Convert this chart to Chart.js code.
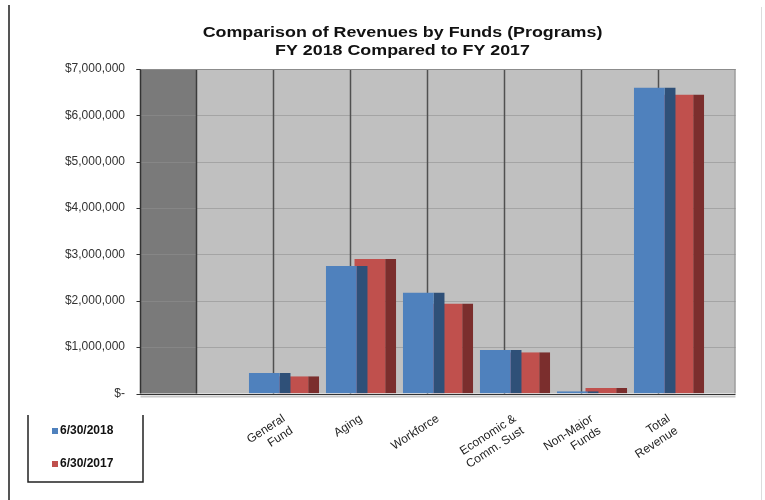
<!DOCTYPE html>
<html>
<head>
<meta charset="utf-8">
<script src="https://cdn.jsdelivr.net/npm/chart.js@4.4.0/dist/chart.umd.min.js"></script>
<style>
  html, body { margin: 0; padding: 0; background: #fff; }
  #wrap { position: relative; width: 765px; height: 500px; }
</style>
</head>
<body>
<div id="wrap"><canvas id="revChart"></canvas></div>
<script>
// first slot is empty, as in the source sheet
const categories = ['', ['General', 'Fund'], 'Aging', 'Workforce', ['Economic &', 'Comm. Sust'], ['Non-Major', 'Funds'], ['Total', 'Revenue']];
const fy2018 = [null, 440000, 2750000, 2180000, 940000, 50000, 6600000];
const fy2017 = [null, 370000, 2900000, 1940000, 890000, 120000, 6450000];
const seriesNames = ['6/30/2018', '6/30/2017'];
const yTicks = [0, 1000000, 2000000, 3000000, 4000000, 5000000, 6000000, 7000000];
const titleLines = ['Comparison of Revenues by Funds (Programs)', 'FY 2018 Compared to FY 2017'];

const faceColors = ['#4f81bd', '#c0504d'];
const sideColors = ['#2f5078', '#7b2e2d'];
const DEPTH = 28; // half depth of the fake 3d box
const FONT = '"Liberation Sans", Arial, sans-serif';

const money = v => v === 0 ? '$-' : '$' + v.toLocaleString('en-US');

const boxPlugin = {
  id: 'box3d',
  beforeDraw(chart) {
    const { ctx, chartArea: ca, scales: { x, y } } = chart;
    const frontL = ca.left - DEPTH, backL = ca.left + DEPTH, backR = ca.right + DEPTH;
    ctx.save();
    // frame
    ctx.fillStyle = '#555';
    ctx.fillRect(8, 5, 2, 495);
    ctx.fillStyle = '#dcdcdc';
    ctx.fillRect(761, 7, 1, 493);

    // title, stretched a bit like the original export
    ctx.fillStyle = '#111';
    ctx.font = 'bold 15px ' + FONT;
    ctx.textAlign = 'center';
    ctx.textBaseline = 'alphabetic';
    titleLines.forEach((t, i) => {
      ctx.save();
      ctx.translate(chart.width / 2 + 20, 37 + i * 17.5);
      ctx.scale(1.19, 1);
      ctx.fillText(t, 0, 0);
      ctx.restore();
    });

    // side wall + back wall
    ctx.fillStyle = '#7a7a7a';
    ctx.fillRect(frontL, ca.top, backL - frontL, ca.bottom - ca.top);
    ctx.fillStyle = '#c0c0c0';
    ctx.fillRect(backL, ca.top, backR - backL, ca.bottom - ca.top);

    // horizontal grid
    yTicks.forEach(t => {
      if (t === 0) return;
      const py = Math.round(y.getPixelForValue(t)) + 0.5;
      ctx.strokeStyle = '#868686';
      ctx.lineWidth = 1;
      ctx.beginPath(); ctx.moveTo(frontL, py); ctx.lineTo(backL, py); ctx.stroke();
      ctx.strokeStyle = '#a4a4a4';
      ctx.beginPath(); ctx.moveTo(backL, py); ctx.lineTo(backR, py); ctx.stroke();
      // tick mark
      ctx.strokeStyle = '#333';
      ctx.beginPath(); ctx.moveTo(frontL - 4, py); ctx.lineTo(frontL, py); ctx.stroke();
    });

    // vertical grid on back wall
    ctx.strokeStyle = '#505050';
    ctx.lineWidth = 1.5;
    for (let i = 1; i < categories.length; i++) {
      const px = (x.getPixelForValue(i - 1) + x.getPixelForValue(i)) / 2 + DEPTH;
      ctx.beginPath(); ctx.moveTo(px, ca.top); ctx.lineTo(px, ca.bottom); ctx.stroke();
    }

    // edges
    ctx.lineWidth = 1.5;
    ctx.strokeStyle = '#333';
    ctx.beginPath(); ctx.moveTo(frontL, ca.top); ctx.lineTo(frontL, ca.bottom); ctx.stroke();
    ctx.strokeStyle = '#3c3c3c';
    ctx.beginPath(); ctx.moveTo(backL, ca.top); ctx.lineTo(backL, ca.bottom); ctx.stroke();
    ctx.lineWidth = 1;
    ctx.strokeStyle = '#8c8c8c';
    ctx.beginPath(); ctx.moveTo(frontL, ca.top + 0.5); ctx.lineTo(backR, ca.top + 0.5); ctx.stroke();
    ctx.beginPath(); ctx.moveTo(backR - 0.5, ca.top); ctx.lineTo(backR - 0.5, ca.bottom); ctx.stroke();
    ctx.strokeStyle = '#333';
    ctx.beginPath(); ctx.moveTo(frontL - 4, ca.top + 0.5); ctx.lineTo(frontL, ca.top + 0.5); ctx.stroke();
    // floor
    const by = Math.round(ca.bottom) + 0.5;
    ctx.strokeStyle = '#333';
    ctx.beginPath(); ctx.moveTo(frontL - 4, by); ctx.lineTo(backR, by); ctx.stroke();
    ctx.strokeStyle = '#c8c8c8';
    ctx.lineWidth = 2;
    ctx.beginPath(); ctx.moveTo(frontL, by + 2); ctx.lineTo(backR, by + 2); ctx.stroke();
    ctx.restore();
  },
  afterDraw(chart) {
    const { ctx } = chart;
    ctx.save();
    // legend box (open at the top)
    ctx.strokeStyle = '#222';
    ctx.lineWidth = 1.5;
    ctx.beginPath();
    ctx.moveTo(28, 415); ctx.lineTo(28, 482); ctx.lineTo(143, 482); ctx.lineTo(143, 415);
    ctx.stroke();
    ctx.font = 'bold 12px ' + FONT;
    ctx.textBaseline = 'middle';
    chart.data.datasets.forEach((ds, i) => {
      const cy = 431 + i * 33;
      ctx.fillStyle = ds.backgroundColor;
      ctx.fillRect(52, cy - 3, 6, 6);
      ctx.fillStyle = '#111';
      ctx.fillText(ds.label, 60, cy);
    });
    ctx.restore();
  }
};

new Chart(document.getElementById('revChart'), {
  type: 'bar',
  data: {
    labels: categories,
    datasets: [fy2018, fy2017].map((d, i) => ({
      label: seriesNames[i],
      data: d,
      backgroundColor: faceColors[i],
      borderColor: sideColors[i],
      borderWidth: { top: 0, left: 0, bottom: 0, right: 11 },
      borderSkipped: false,
      categoryPercentage: 0.74,
      barPercentage: 1.47
    }))
  },
  options: {
    responsive: true,
    maintainAspectRatio: false,
    animation: false,
    devicePixelRatio: 1,
    layout: { padding: { left: 0, right: 57.5, top: 69, bottom: 0 } },
    plugins: {
      legend: { display: false },
      tooltip: { enabled: false },
      title: { display: false }
    },
    scales: {
      x: {
        grid: { display: false },
        border: { display: false },
        ticks: {
          color: '#222',
          font: { family: FONT, size: 12 },
          minRotation: 33,
          maxRotation: 33,
          autoSkip: false,
          padding: 10
        },
        afterFit: s => { s.height = 106.5; }
      },
      y: {
        min: 0,
        max: 7000000,
        afterBuildTicks: s => { s.ticks = yTicks.map(v => ({ value: v })); },
        grid: { display: false },
        border: { display: false },
        ticks: {
          color: '#333',
          font: { family: FONT, size: 12 },
          padding: 35.5,
          callback: v => money(v)
        },
        afterFit: s => { s.width = 168.5; }
      }
    }
  },
  plugins: [boxPlugin]
});
</script>
</body>
</html>
